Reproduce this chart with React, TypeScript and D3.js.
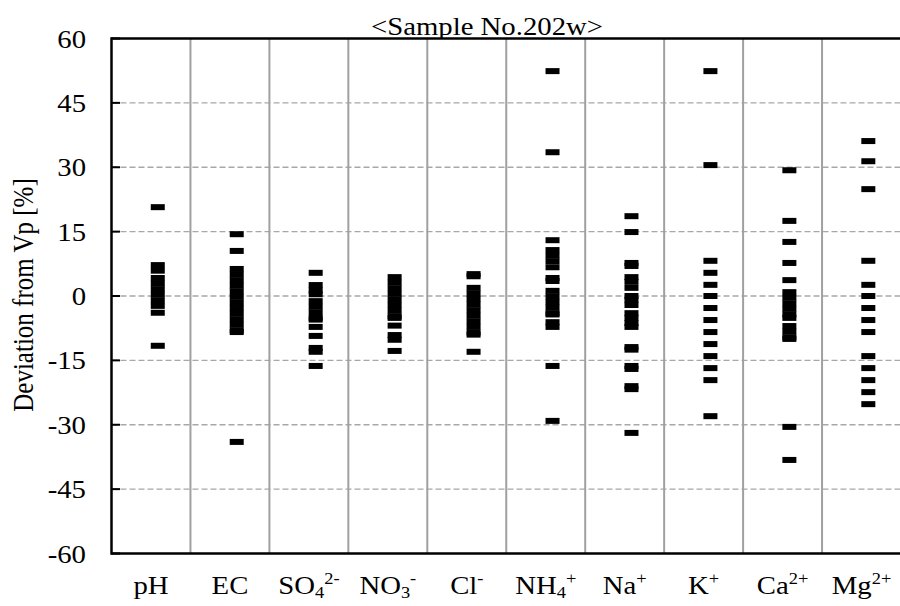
import React from "react";
import * as d3 from "d3";

// ---- Data ----
const categories = ["pH", "EC", "SO4", "NO3", "Cl", "NH4", "Na", "K", "Ca", "Mg"];

const pHValues = [20.7, 7.2, 5.9, 4.2, 2.9, 1.6, 0.3, -1.0, -2.3, -3.9, -11.6];
const ecValues = [14.4, 10.5, 6.3, 5.0, 3.7, 2.4, 1.1, -0.2, -1.5, -2.8, -4.1, -5.4, -6.7, -8.0, -8.4, -34.0];
const so4Values = [5.4, 2.55, 1.3, 0.4, -1.2, -2.5, -3.8, -5.1, -5.5, -7.2, -9.3, -12.1, -13.0, -16.3];
const no3Values = [4.4, 3.1, 1.8, 0.5, -0.8, -2.1, -3.4, -4.7, -5.1, -6.9, -9.1, -10.2, -12.8];
const clValues = [5.1, 4.6, 1.9, 0.6, -0.7, -2.0, -3.3, -4.6, -5.9, -7.2, -8.5, -9.0, -13.0];
const nh4Values = [52.4, 33.5, 13.0, 10.7, 9.4, 8.1, 6.7, 4.2, 3.5, 1.2, -0.1, -1.4, -2.7, -4.0, -4.3, -6.1, -7.2, -16.3, -29.1];
const naValues = [18.6, 14.9, 7.7, 7.0, 4.4, 3.3, 1.9, 0, -0.9, -2.1, -4.0, -5.1, -6.3, -7.2, -11.9, -12.5, -16.3, -17.0, -21.0, -21.7, -31.9];
const kValues = [52.4, 30.5, 8.2, 5.4, 2.6, 0, -2.8, -5.6, -8.4, -11.2, -14.0, -16.8, -19.6, -28.0];
const caValues = [29.3, 17.5, 12.6, 7.7, 3.7, 0.9, -0.4, -1.7, -3.0, -4.3, -5.1, -7.0, -8.3, -9.6, -10.0, -30.5, -38.2];
const mgValues = [36.1, 31.4, 24.9, 8.2, 2.6, 0, -2.8, -5.6, -8.4, -14.0, -16.8, -19.6, -22.4, -25.2];

const seriesValues = [pHValues, ecValues, so4Values, no3Values, clValues, nh4Values, naValues, kValues, caValues, mgValues];

const yTicks = [-60, -45, -30, -15, 0, 15, 30, 45, 60];
const yTickLabels = ["-60", "-45", "-30", "-15", "0", "15", "30", "45", "60"];

// label parts: [base, subscript, superscript]
const labelParts: [string, string, string][] = [
  ["pH", "", ""],
  ["EC", "", ""],
  ["SO", "4", "2-"],
  ["NO", "3", "-"],
  ["Cl", "", "-"],
  ["NH", "4", "+"],
  ["Na", "", "+"],
  ["K", "", "+"],
  ["Ca", "", "2+"],
  ["Mg", "", "2+"],
];

const titleText = "<Sample No.202w>";
const yAxisTitle = "Deviation from Vp [%]";

// ---- Layout ----
const W = 900;
const H = 606;
const left = 111.5;
const right = 901;
const top = 38.5;
const bottom = 553.5;
const SX = 1.15;
const FS = 25;
const FONT = "Liberation Serif";

export default function App() {
  const y = d3.scaleLinear().domain([-60, 60]).range([bottom, top]);
  const x = d3.scaleBand<string>().domain(categories).range([left, right]).padding(0);
  const bw = x.bandwidth();
  const markerOffset = 6.8;

  return (
    <svg
      width={W}
      height={H}
      style={{ position: "absolute", left: 0, top: 0, display: "block", background: "#fff" }}
    >
      <rect x={0} y={0} width={W} height={H} fill="#fff" />
      {/* title */}
      <g transform={`translate(487,35) scale(${SX},1)`}>
        <text textAnchor="middle" fontSize={FS} fontFamily={FONT} fill="#000">{titleText}</text>
      </g>
      {/* plot background */}
      <rect x={left} y={top} width={right - left} height={bottom - top} fill="#fff" />
      {/* horizontal dashed gridlines */}
      {yTicks.filter((t) => t !== 60 && t !== -60).map((t) => (
        <line key={"g" + t} x1={left} x2={right} y1={y(t)} y2={y(t)} stroke="#a8a8a8" strokeWidth={1.3} strokeDasharray="6,3" />
      ))}
      {/* vertical separators */}
      {categories.slice(1).map((c) => (
        <line key={"s" + c} x1={x(c)!} x2={x(c)!} y1={top} y2={bottom} stroke="#a0a0a0" strokeWidth={2} />
      ))}
      {/* markers */}
      {categories.map((c, i) =>
        seriesValues[i].map((v, j) => (
          <rect
            key={c + "-" + j}
            x={x(c)! + bw / 2 + markerOffset - 7}
            y={y(v) - 3}
            width={14}
            height={6}
            fill="#000"
          />
        ))
      )}
      {/* frame */}
      <line x1={left} x2={right} y1={top} y2={top} stroke="#000" strokeWidth={2.5} />
      <line x1={left} x2={right} y1={bottom} y2={bottom} stroke="#000" strokeWidth={2.5} />
      <line x1={left} x2={left} y1={top - 1.25} y2={bottom + 1.25} stroke="#000" strokeWidth={2.5} />
      {/* y ticks */}
      {yTicks.map((t) => (
        <line key={"t" + t} x1={left} x2={left + 8.5} y1={y(t)} y2={y(t)} stroke="#000" strokeWidth={2} />
      ))}
      {/* y tick labels */}
      {yTicks.map((t, i) => (
        <g key={"l" + t} transform={`translate(86,${y(t) + 9}) scale(${SX},1)`}>
          <text textAnchor="end" fontSize={FS} fontFamily={FONT} fill="#000">{yTickLabels[i]}</text>
        </g>
      ))}
      {/* y axis title */}
      <g transform={`translate(33,295) scale(1.2,1) rotate(-90)`}>
        <text textAnchor="middle" fontSize={25} fontFamily={FONT} fill="#000">{yAxisTitle}</text>
      </g>
      {/* category labels */}
      {categories.map((c, i) => {
        const [base, sub, sup] = labelParts[i];
        const cx = x(c)! + bw / 2;
        return (
          <g key={"c" + c} transform={`translate(${cx},594) scale(${SX},1)`}>
            <text textAnchor="middle" fontSize={FS} fontFamily={FONT} fill="#000">
              <tspan>{base}</tspan>
              {sub ? <tspan fontSize={16} dy={4}>{sub}</tspan> : null}
              {sup ? <tspan fontSize={16} dy={sub ? -14 : -10}>{sup}</tspan> : null}
            </text>
          </g>
        );
      })}
    </svg>
  );
}
